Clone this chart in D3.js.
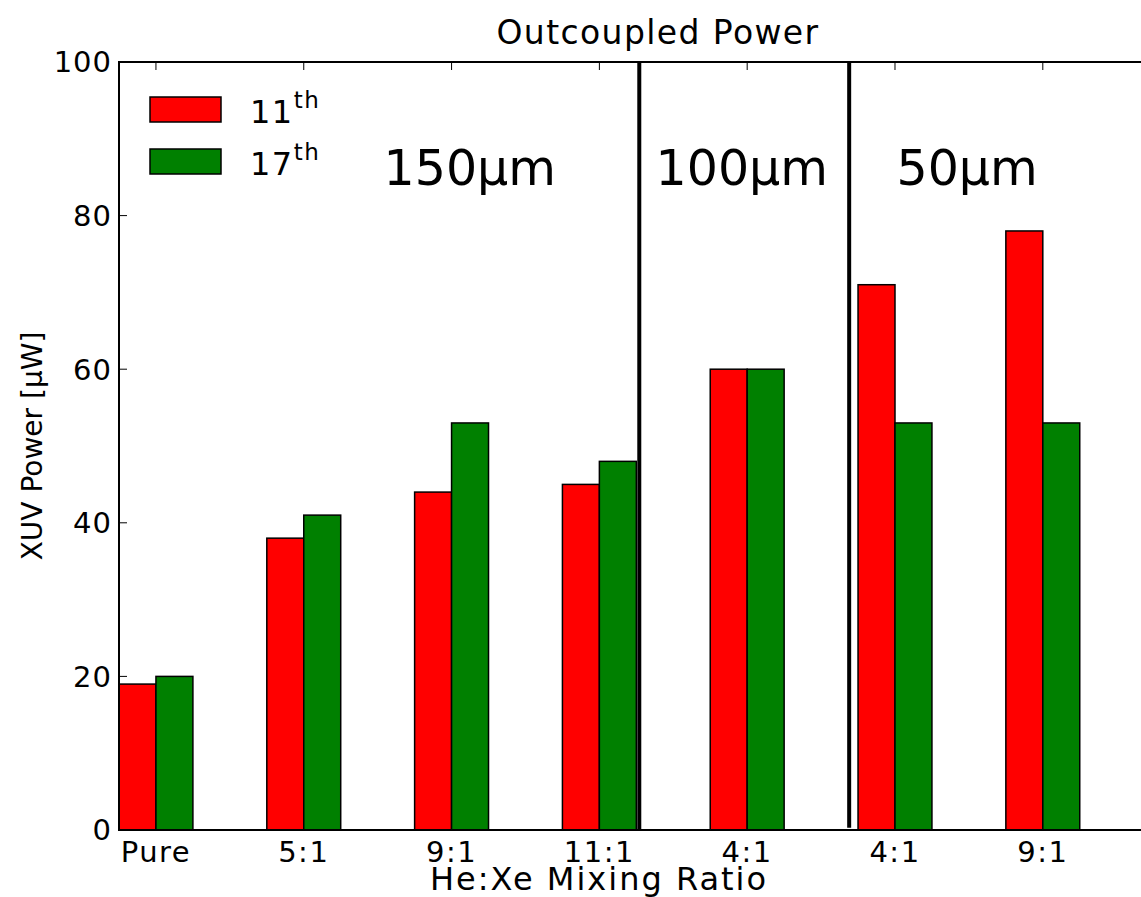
<!DOCTYPE html>
<html>
<head>
<meta charset="utf-8">
<script src="https://cdn.jsdelivr.net/npm/d3@7"></script>
<style>
  body { margin: 0; background: #fff; }
  text { font-family: "DejaVu Sans", sans-serif; fill: #000; }
</style>
</head>
<body>
<div id="chart"></div>
<script>
// data
var categories = ['Pure', '5:1', '9:1', '11:1', '4:1', '4:1', '9:1']
var order11 = [19, 38, 44, 45, 60, 71, 78]
var order17 = [20, 41, 53, 48, 60, 53, 53]
var yTicks = [0, 20, 40, 60, 80, 100]
var separators = [{ x: 3.52, y0: 0, y1: 100 }, { x: 4.94, y0: 0.3, y1: 100 }]
var regions = [{ label: '150µm', x: 1.79 }, { label: '100µm', x: 3.63 }, { label: '50µm', x: 5.26 }]
var legendItems = [{ base: '11', sup: 'th', color: '#ff0000' }, { base: '17', sup: 'th', color: '#008000' }]

var width = 1141
var height = 897
var margin = { top: 62, left: 119, bottom: 67, right: -57 }
var barWidth = 0.25

var chartWidth = width - margin.left - margin.right
var chartHeight = height - margin.top - margin.bottom

var svg = d3.select('#chart').append('svg')
  .attr('width', width)
  .attr('height', height)

var x = d3.scaleLinear().domain([0, 7.3]).range([0, chartWidth])
var y = d3.scaleLinear().domain([0, 100]).range([chartHeight, 0])

var g = svg.append('g')
  .attr('transform', 'translate(' + margin.left + ',' + margin.top + ')')

// bars
var series = [
  { values: order11, offset: 0, color: '#ff0000' },
  { values: order17, offset: barWidth, color: '#008000' }
]

series.forEach(function (s) {
  g.append('g').selectAll('rect')
      .data(s.values)
    .enter().append('rect')
      .attr('x', function (d, i) { return x(i + s.offset) })
      .attr('y', function (d) { return y(d) })
      .attr('width', x(barWidth) - x(0))
      .attr('height', function (d) { return y(0) - y(d) })
      .attr('fill', s.color)
      .attr('stroke', '#000')
      .attr('stroke-width', 1.5)
})

// separators
g.selectAll('.sep')
    .data(separators)
  .enter().append('line')
    .attr('class', 'sep')
    .attr('x1', function (d) { return x(d.x) })
    .attr('x2', function (d) { return x(d.x) })
    .attr('y1', function (d) { return y(d.y0) })
    .attr('y2', function (d) { return y(d.y1) })
    .attr('stroke', '#000')
    .attr('stroke-width', 4)

// region labels
g.selectAll('.region')
    .data(regions)
  .enter().append('text')
    .attr('class', 'region')
    .attr('x', function (d) { return x(d.x) })
    .attr('y', y(84))
    .style('font-size', '49px')
    .text(function (d) { return d.label })

// ticks (inward)
var tickPos = categories.map(function (d, i) { return i + barWidth })
var tickLen = 8

g.selectAll('.ytick')
    .data(yTicks)
  .enter().append('line')
    .attr('x1', 0).attr('x2', tickLen)
    .attr('y1', function (d) { return y(d) })
    .attr('y2', function (d) { return y(d) })
    .attr('stroke', '#000').attr('stroke-width', 1)

g.selectAll('.xtick-top')
    .data(tickPos)
  .enter().append('line')
    .attr('x1', function (d) { return x(d) })
    .attr('x2', function (d) { return x(d) })
    .attr('y1', 0).attr('y2', tickLen)
    .attr('stroke', '#000').attr('stroke-width', 1)

// tick labels
g.selectAll('.ylabel')
    .data(yTicks)
  .enter().append('text')
    .attr('x', -7)
    .attr('y', function (d) { return y(d) })
    .attr('dy', '0.36em')
    .attr('text-anchor', 'end')
    .style('font-size', '29px')
    .style('letter-spacing', '1px')
    .text(function (d) { return d })

g.selectAll('.xlabel')
    .data(categories)
  .enter().append('text')
    .attr('x', function (d, i) { return x(tickPos[i]) })
    .attr('y', chartHeight + 32)
    .attr('text-anchor', 'middle')
    .style('font-size', '29px')
    .style('letter-spacing', '1.5px')
    .text(function (d) { return d })

// spines
g.append('path')
  .attr('d', 'M' + chartWidth + ',0H0V' + chartHeight + 'H' + chartWidth)
  .attr('fill', 'none')
  .attr('stroke', '#000')
  .attr('stroke-width', 2)

// legend
var legend = g.append('g').attr('transform', 'translate(31,35)')
legendItems.forEach(function (d, i) {
  var row = legend.append('g').attr('transform', 'translate(0,' + (i * 52) + ')')
  row.append('rect')
    .attr('width', 71).attr('height', 25)
    .attr('fill', d.color)
    .attr('stroke', '#000').attr('stroke-width', 1.5)
  var t = row.append('text')
    .attr('x', 100).attr('y', 26)
    .style('font-size', '32px')
    .style('letter-spacing', '1.5px')
  t.append('tspan').text(d.base)
  t.append('tspan').attr('dy', -15).style('font-size', '23px').text(d.sup)
})

// titles
svg.append('text')
  .attr('x', 658).attr('y', 44)
  .attr('text-anchor', 'middle')
  .style('font-size', '33px')
  .style('letter-spacing', '1.4px')
  .text('Outcoupled Power')

svg.append('text')
  .attr('x', 599).attr('y', 890)
  .attr('text-anchor', 'middle')
  .style('font-size', '32px')
  .style('letter-spacing', '2px')
  .text('He:Xe Mixing Ratio')

svg.append('text')
  .attr('transform', 'translate(42,' + (margin.top + chartHeight / 2) + ') rotate(-90)')
  .attr('text-anchor', 'middle')
  .style('font-size', '28px')
  .text('XUV Power [µW]')
</script>
</body>
</html>
